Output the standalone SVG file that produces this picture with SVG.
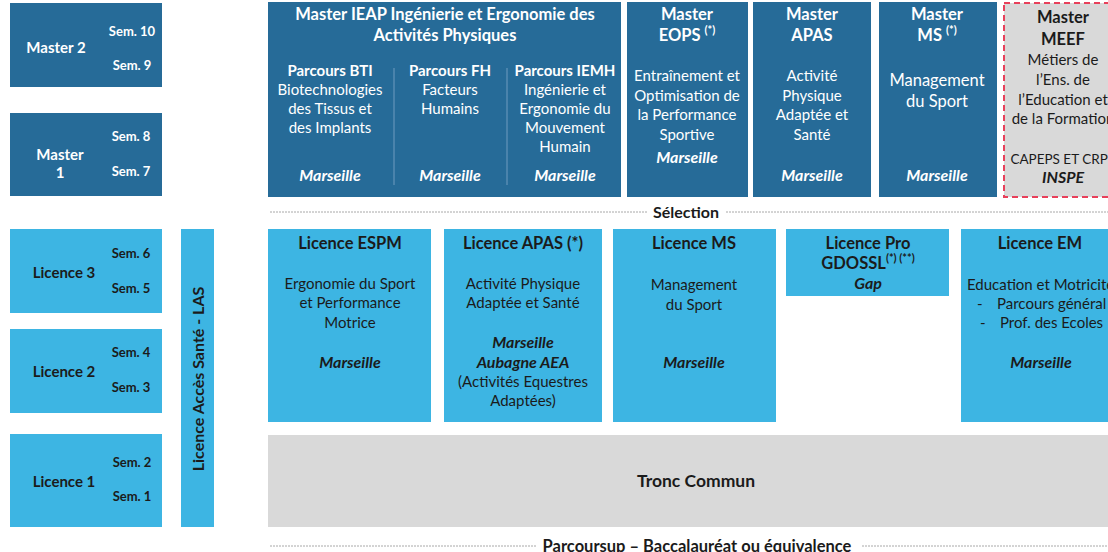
<svg xmlns="http://www.w3.org/2000/svg" width="1108" height="552" viewBox="0 0 1108 552">
<style>
text{font-family:Lato,"Open Sans","Liberation Sans",sans-serif;text-anchor:middle}
.dk{fill:#266B98}
.lt{fill:#3DB5E3}
.gr{fill:#D9D9D9}
.w{fill:#ffffff}
.k{fill:#1b1b1b}
.b{font-weight:bold}
.bi{font-weight:bold;font-style:italic;font-size:16px}
.h{font-size:16.5px}
.t15{font-size:15px}
.t14{font-size:14.5px}
.t13{font-size:13px}
.sup{font-size:11px}
.sep{stroke:#a8a8a8;stroke-width:1;stroke-dasharray:2 1}
</style>
<rect width="1108" height="552" fill="#ffffff"/>

<g id="master2">
<rect class="dk" x="10" y="3" width="152" height="84"/>
<text class="w b t15" x="56" y="53">Master 2</text>
<text class="w b t13" x="132" y="36">Sem. 10</text>
<text class="w b t13" x="132" y="70">Sem. 9</text>
</g>
<g id="master1">
<rect class="dk" x="10" y="113" width="152" height="83"/>
<text class="w b t15" x="60" y="160">Master</text>
<text class="w b t15" x="60" y="178">1</text>
<text class="w b t13" x="131" y="141">Sem. 8</text>
<text class="w b t13" x="131" y="176">Sem. 7</text>
</g>
<g id="licence3">
<rect class="lt" x="10" y="229" width="152" height="84"/>
<text class="k b t15" x="64" y="278">Licence 3</text>
<text class="k b t13" x="131" y="258">Sem. 6</text>
<text class="k b t13" x="131" y="293">Sem. 5</text>
</g>
<g id="licence2">
<rect class="lt" x="10" y="329" width="152" height="84"/>
<text class="k b t15" x="64" y="377">Licence 2</text>
<text class="k b t13" x="131" y="357">Sem. 4</text>
<text class="k b t13" x="131" y="392">Sem. 3</text>
</g>
<g id="licence1">
<rect class="lt" x="10" y="434" width="152" height="93"/>
<text class="k b t15" x="64" y="487">Licence 1</text>
<text class="k b t13" x="132" y="467">Sem. 2</text>
<text class="k b t13" x="132" y="501">Sem. 1</text>
</g>
<g id="las">
<rect class="lt" x="181" y="229" width="33" height="298"/>
<text class="k b" style="font-size:16px" transform="translate(203.5 379) rotate(-90)">Licence Accès Santé - LAS</text>
</g>

<g id="master-ieap">
<rect class="dk" x="268" y="2" width="353" height="195"/>
<text class="w b h" x="445" y="20">Master IEAP Ingénierie et Ergonomie des</text>
<text class="w b h" x="445" y="41">Activités Physiques</text>
<line x1="394" y1="68" x2="394" y2="185" stroke="#6f9cbf" stroke-width="1"/>
<line x1="507" y1="68" x2="507" y2="185" stroke="#6f9cbf" stroke-width="1"/>
<text class="w b t15" x="330" y="76">Parcours BTI</text>
<text class="w t15" x="330" y="95">Biotechnologies</text>
<text class="w t15" x="330" y="114">des Tissus et</text>
<text class="w t15" x="330" y="133">des Implants</text>
<text class="w bi" x="330" y="181">Marseille</text>
<text class="w b t15" x="450" y="76">Parcours FH</text>
<text class="w t15" x="450" y="95">Facteurs</text>
<text class="w t15" x="450" y="114">Humains</text>
<text class="w bi" x="450" y="181">Marseille</text>
<text class="w b t15" x="565" y="76">Parcours IEMH</text>
<text class="w t15" x="565" y="95">Ingénierie et</text>
<text class="w t15" x="565" y="114">Ergonomie du</text>
<text class="w t15" x="565" y="133">Mouvement</text>
<text class="w t15" x="565" y="152">Humain</text>
<text class="w bi" x="565" y="181">Marseille</text>
</g>
<g id="master-eops">
<rect class="dk" x="627" y="2" width="121" height="195"/>
<text class="w b h" x="687" y="20">Master</text>
<text class="w b h" x="687" y="41">EOPS <tspan class="sup" dy="-7">(*)</tspan></text>
<text class="w t15" x="687" y="81">Entraînement et</text>
<text class="w t15" x="687" y="101">Optimisation de</text>
<text class="w t15" x="687" y="120">la Performance</text>
<text class="w t15" x="687" y="140">Sportive</text>
<text class="w bi" x="687" y="163">Marseille</text>
</g>
<g id="master-apas">
<rect class="dk" x="753" y="2" width="118" height="195"/>
<text class="w b h" x="812" y="20">Master</text>
<text class="w b h" x="812" y="41">APAS</text>
<text class="w t15" x="812" y="81">Activité</text>
<text class="w t15" x="812" y="101">Physique</text>
<text class="w t15" x="812" y="120">Adaptée et</text>
<text class="w t15" x="812" y="140">Santé</text>
<text class="w bi" x="812" y="181">Marseille</text>
</g>
<g id="master-ms">
<rect class="dk" x="879" y="2" width="118" height="195"/>
<text class="w b h" x="937" y="20">Master</text>
<text class="w b h" x="937" y="41">MS <tspan class="sup" dy="-7">(*)</tspan></text>
<text class="w h" x="937" y="86">Management</text>
<text class="w h" x="937" y="107">du Sport</text>
<text class="w bi" x="937" y="181">Marseille</text>
</g>
<g id="master-meef">
<rect class="gr" x="1004" y="3" width="110" height="194" stroke="#E8405A" stroke-width="2" stroke-dasharray="6 4"/>
<text class="k b h" x="1063" y="23">Master</text>
<text class="k b h" x="1063" y="45">MEEF</text>
<text class="k t15" x="1063" y="65">Métiers de</text>
<text class="k t15" x="1063" y="85">l’Ens. de</text>
<text class="k t15" x="1063" y="105">l’Education et</text>
<text class="k t15" x="1063" y="124">de la Formation</text>
<text class="k" style="font-size:13.5px" x="1063" y="164">CAPEPS ET CRPE</text>
<text class="k bi" x="1063" y="183">INSPE</text>
</g>

<g id="connectors">
<line class="sep" x1="270" y1="212" x2="647" y2="212"/>
<line class="sep" x1="726" y1="212" x2="1108" y2="212"/>
<line class="sep" x1="270" y1="546" x2="536" y2="546"/>
<line class="sep" x1="862" y1="546" x2="1108" y2="546"/>
</g>
<g id="selection">
<text class="k b" style="font-size:16px" x="686" y="218">Sélection</text>
</g>

<g id="licence-espm">
<rect class="lt" x="268" y="229" width="163" height="193"/>
<text class="k b h" x="350" y="249">Licence ESPM</text>
<text class="k t15" x="350" y="289">Ergonomie du Sport</text>
<text class="k t15" x="350" y="308">et Performance</text>
<text class="k t15" x="350" y="328">Motrice</text>
<text class="k bi" x="350" y="368">Marseille</text>
</g>
<g id="licence-apas">
<rect class="lt" x="444" y="229" width="158" height="193"/>
<text class="k b h" x="523" y="249">Licence APAS (*)</text>
<text class="k t15" x="523" y="289">Activité Physique</text>
<text class="k t15" x="523" y="308">Adaptée et Santé</text>
<text class="k bi" x="523" y="348">Marseille</text>
<text class="k bi" x="523" y="368">Aubagne AEA</text>
<text class="k t15" x="523" y="387">(Activités Equestres</text>
<text class="k t15" x="523" y="406">Adaptées)</text>
</g>
<g id="licence-ms">
<rect class="lt" x="613" y="229" width="163" height="193"/>
<text class="k b h" x="694" y="249">Licence MS</text>
<text class="k t15" x="694" y="290">Management</text>
<text class="k t15" x="694" y="310">du Sport</text>
<text class="k bi" x="694" y="368">Marseille</text>
</g>
<g id="licence-pro">
<rect class="lt" x="786" y="229" width="163" height="67"/>
<text class="k b h" x="868" y="249">Licence Pro</text>
<text class="k b h" x="868" y="269">GDOSSL<tspan class="sup" dy="-7">(*) (**)</tspan></text>
<text class="k bi" x="868" y="289">Gap</text>
</g>
<g id="licence-em">
<rect class="lt" x="961" y="229" width="150" height="193"/>
<text class="k b h" x="1040" y="249">Licence EM</text>
<text class="k t15" x="967" y="290" style="text-anchor:start">Education et Motricité</text>
<text class="k t15" x="977" y="309" style="text-anchor:start">-</text>
<text class="k t15" x="997" y="309" style="text-anchor:start">Parcours général</text>
<text class="k t15" x="980" y="328" style="text-anchor:start">-</text>
<text class="k t15" x="1000" y="328" style="text-anchor:start">Prof. des Ecoles</text>
<text class="k bi" x="1041" y="368">Marseille</text>
</g>

<g id="tronc-commun">
<rect class="gr" x="268" y="435" width="842" height="92"/>
<text class="k b" style="font-size:17.5px" x="696" y="487">Tronc Commun</text>
</g>
<g id="parcoursup">
<text class="k b h" x="697" y="552">Parcoursup – Baccalauréat ou équivalence</text>
</g>
</svg>
